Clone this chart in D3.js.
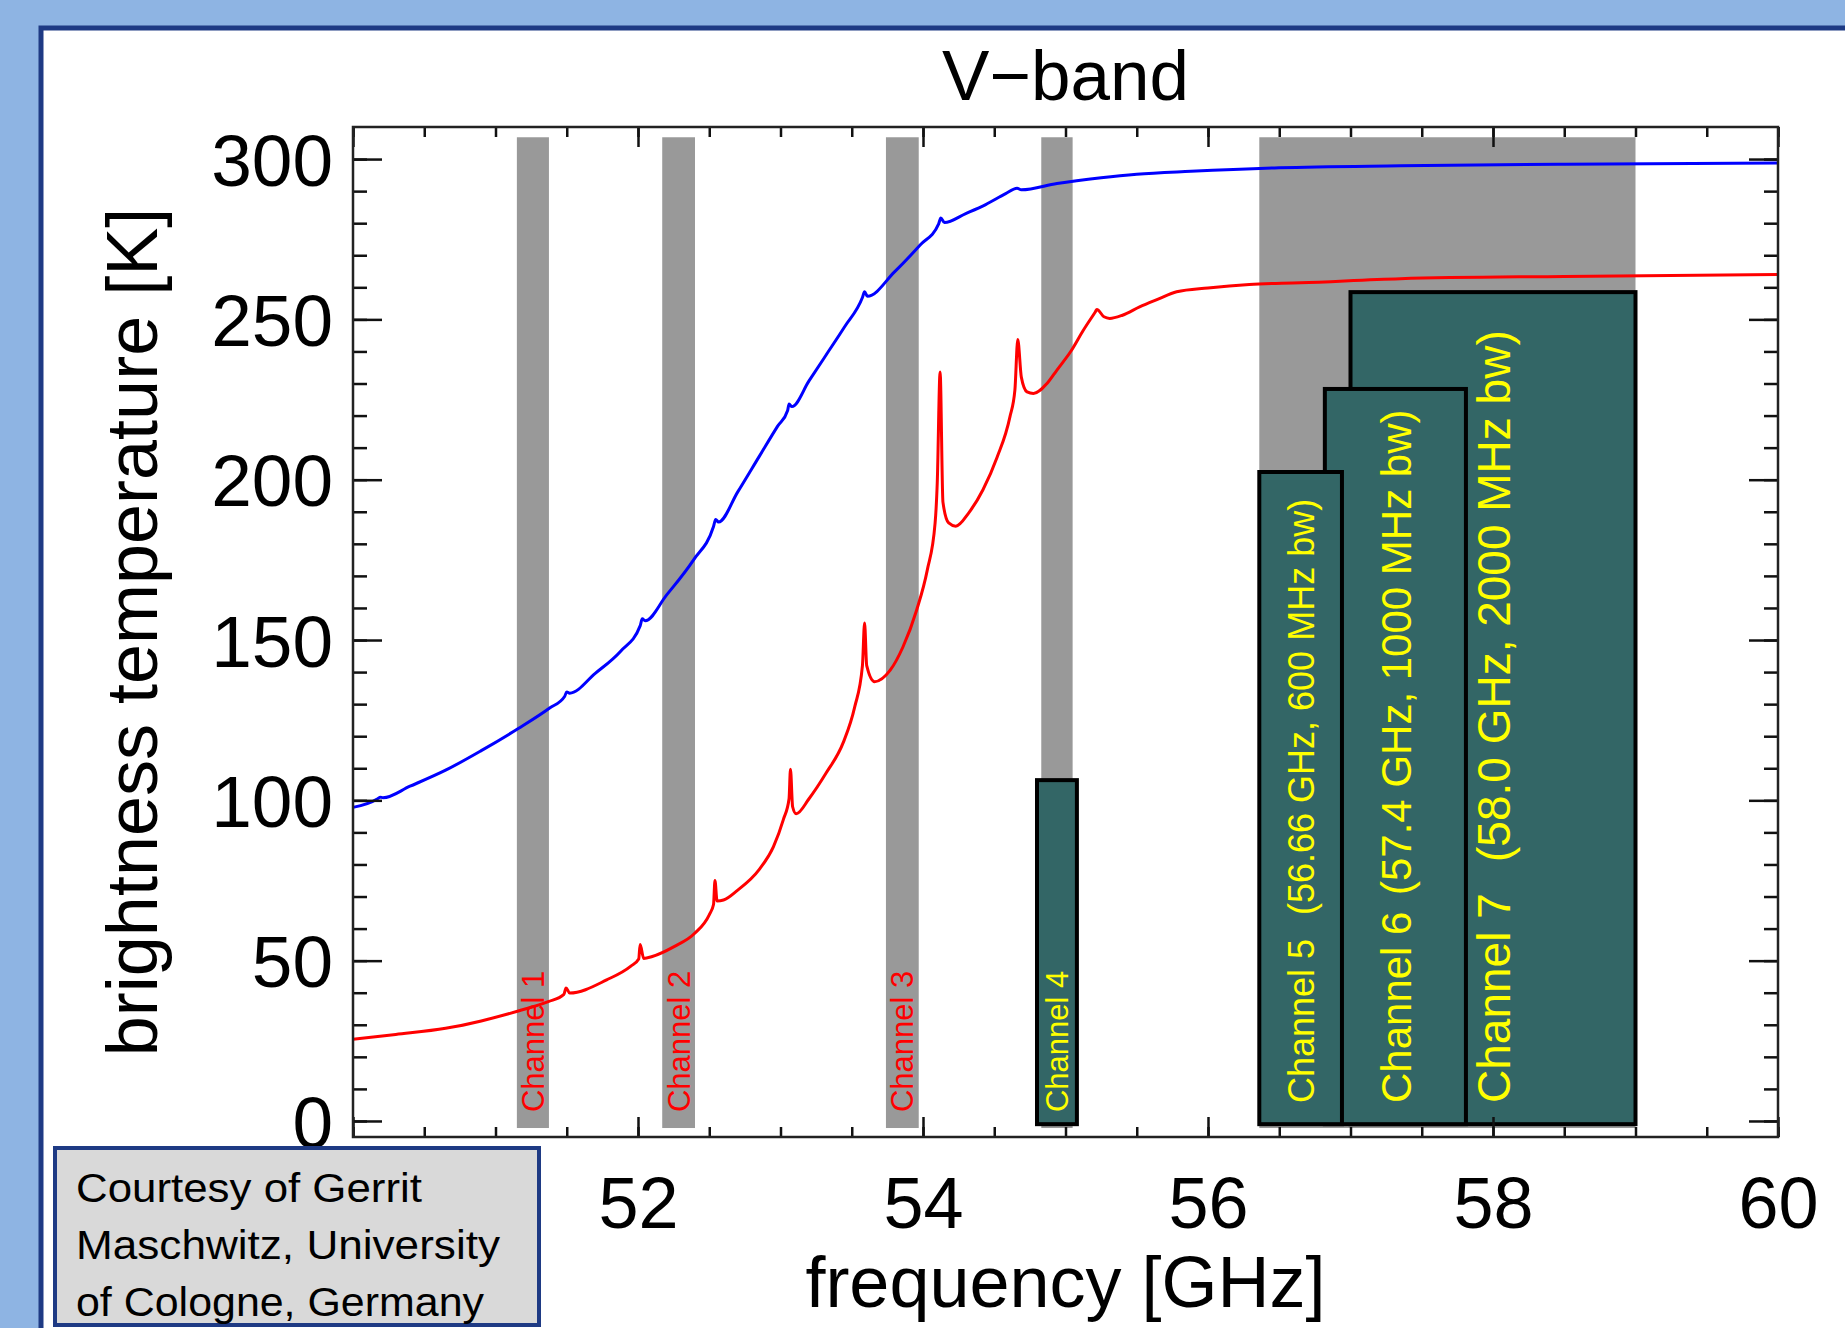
<!DOCTYPE html>
<html><head><meta charset="utf-8">
<script src="https://cdn.jsdelivr.net/npm/d3@7"></script>
<style>
html,body{margin:0;padding:0;background:#8EB4E3;overflow:hidden}
svg{display:block}
text{font-family:"Liberation Sans",Arial,Helvetica,sans-serif}
</style></head><body>
<svg id="chart" width="1845" height="1328"></svg>
<script>
// ---------------- data ----------------
const title = "V\u2212band";
const xLabel = "frequency [GHz]";
const yLabel = "brightness temperature [K]";
const xMajorTicks = [50, 52, 54, 56, 58, 60];
const xTickLabels = ["", "52", "54", "56", "58", "60"];   // 50 is hidden behind the credit box
const yMajorTicks = [0, 50, 100, 150, 200, 250, 300];
const courtesyLines = ["Courtesy of Gerrit", "Maschwitz, University", "of Cologne, Germany"];

// red curve (lower curve)
const redFreq = [50.00,50.30,50.65,50.90,51.16,51.37,51.48,51.495,51.52,51.78,51.95,52.005,52.015,52.04,52.10,52.25,52.40,52.50,52.53,52.54,52.555,52.60,52.70,52.85,52.95,53.02,53.06,53.07,53.085,53.11,53.20,53.32,53.44,53.52,53.575,53.59,53.605,53.66,53.77,53.86,53.955,54.03,54.085,54.10,54.12,54.14,54.18,54.23,54.32,54.42,54.52,54.61,54.645,54.665,54.69,54.73,54.775,54.87,54.94,55.04,55.125,55.21,55.22,55.27,55.31,55.40,55.52,55.65,55.78,56.00,56.29,56.65,57.35,58.50,60.00];
const redTb   = [25.5,27.0,28.9,31.2,34.3,37.2,39.5,41.5,39.9,44.0,48.3,50.5,55.0,50.7,51.3,54.3,58.6,64.3,67.5,75.0,68.6,68.9,72.0,78.4,85.5,94.0,100.5,109.7,98.0,95.8,100.5,108.5,118.0,129.0,142.0,155.3,142.0,137.0,140.6,147.9,159.3,171.8,186.5,199.0,233.6,193.0,186.5,185.5,189.6,196.8,207.0,219.6,228.0,243.7,232.0,227.4,226.9,230.0,234.2,240.2,246.6,252.4,253.1,250.8,250.3,251.3,253.9,256.3,258.6,259.8,260.9,261.4,262.7,263.4,264.0];

// blue curve (upper curve)
const blueFreq = [50.00,50.17,50.19,50.21,50.40,50.65,50.90,51.16,51.38,51.485,51.50,51.52,51.70,51.88,52.015,52.03,52.05,52.20,52.39,52.53,52.545,52.565,52.70,52.85,52.98,53.05,53.06,53.08,53.20,53.32,53.45,53.575,53.59,53.61,53.80,53.98,54.11,54.125,54.15,54.30,54.44,54.58,54.66,54.69,54.94,55.25,55.50,55.88,56.50,57.35,58.50,60.00];
const blueTb   = [97.8,100.4,101.0,100.8,104.4,109.4,115.5,122.4,128.8,132.4,133.8,133.4,139.6,146.6,154.4,156.6,156.0,164.0,175.0,185.4,187.6,186.8,196.2,207.2,216.7,221.6,223.6,222.8,230.8,238.9,247.7,256.8,258.6,257.2,264.8,273.2,279.8,281.6,280.2,283.0,285.8,289.2,290.9,290.4,292.4,294.2,295.3,296.2,297.3,297.9,298.4,298.8];

// grey channel bands (GHz)
const grayLo = [51.15, 52.17, 53.74, 54.83, 56.36];
const grayHi = [51.375, 52.40, 53.97, 55.05, 59.00];
const grayTop = 306.8, grayBottom = -2.2;
const grayNames = ["Channel 1", "Channel 2", "Channel 3"];

// teal channel boxes
const tealNames  = ["Channel 4", "Channel 5", "Channel 6", "Channel 7"];
const tealDetail = ["", "(56.66 GHz, 600 MHz bw)", "(57.4 GHz, 1000 MHz bw)", "(58.0 GHz, 2000 MHz bw)"];
const tealLo  = [54.80, 56.36, 56.82, 57.00];
const tealHi  = [55.08, 56.94, 57.81, 59.00];
const tealTop = [106.3, 202.4, 228.3, 258.5];
const tealBottom = -1.0;

// ---------------- drawing ----------------
const svg = d3.select('#chart');
const x = d3.scaleLinear().domain([50, 60]).range([353, 1778]);
const y = d3.scaleLinear().domain([-5, 310]).range([1137, 127]);

// page background + panel
svg.append('rect').attr('width', 1845).attr('height', 1328).attr('fill', '#8EB4E3');
svg.append('rect').attr('x', 41).attr('y', 28).attr('width', 1900).attr('height', 1400)
  .attr('fill', '#ffffff').attr('stroke', '#1E3A84').attr('stroke-width', 5);

// grey bands
svg.append('g').selectAll('rect').data(grayLo).join('rect')
  .attr('x', d => x(d)).attr('width', (d, i) => x(grayHi[i]) - x(d))
  .attr('y', y(grayTop)).attr('height', y(grayBottom) - y(grayTop))
  .attr('fill', '#999999');

// teal boxes (drawn back to front: 4, 7, 6, 5)
const order = [0, 3, 2, 1];
svg.append('g').selectAll('rect').data(order).join('rect')
  .attr('x', i => x(tealLo[i])).attr('width', i => x(tealHi[i]) - x(tealLo[i]))
  .attr('y', i => y(tealTop[i])).attr('height', i => y(tealBottom) - y(tealTop[i]))
  .attr('fill', '#336666').attr('stroke', '#000').attr('stroke-width', 4);

// curves
const line = d3.line().x(d => x(d[0])).y(d => y(d[1])).curve(d3.curveMonotoneX);
svg.append('path').datum(redFreq.map((f, i) => [f, redTb[i]]))
  .attr('d', line).attr('fill', 'none').attr('stroke', '#FF0000').attr('stroke-width', 3)
  .attr('stroke-linejoin', 'round');
svg.append('path').datum(blueFreq.map((f, i) => [f, blueTb[i]]))
  .attr('d', line).attr('fill', 'none').attr('stroke', '#0000FF').attr('stroke-width', 3)
  .attr('stroke-linejoin', 'round');

// channel labels in grey bands
const labelStartY = y(grayBottom) - 16;
grayNames.forEach((name, i) => {
  const cx = (x(grayLo[i]) + x(grayHi[i])) / 2;
  const fs = 31;
  svg.append('text').attr('transform', `translate(${cx + fs * 0.36},${labelStartY}) rotate(-90)`)
    .attr('font-size', fs).attr('fill', '#FF0000').text(name);
});

// teal labels
const tealFont = [31, 36, 42, 46];
const tealStart = [y(grayBottom) - 16, 1103, 1103, 1103];
const detailOffset = [0, 188, 208, 241];
tealNames.forEach((name, i) => {
  const cx = (x(tealLo[i]) + x(tealHi[i])) / 2;
  const fs = tealFont[i];
  const t = svg.append('text')
    .attr('transform', `translate(${cx + fs * 0.36},${tealStart[i]}) rotate(-90)`)
    .attr('font-size', fs).attr('fill', '#FFFF00');
  t.append('tspan').attr('x', 0).text(name);
  if (tealDetail[i]) t.append('tspan').attr('x', detailOffset[i]).text(tealDetail[i]);
});

// axes
function styleAxis(g) {
  g.select('.domain').remove();
  g.selectAll('line').attr('stroke', '#111').attr('stroke-width', 2.5);
  g.selectAll('text').attr('font-family', '"Liberation Sans",Arial,sans-serif').attr('fill', '#000');
}
const xMinor = d3.range(50, 60.001, 0.5);
const yMinor = d3.range(0, 300.001, 10);

// bottom
svg.append('g').attr('transform', `translate(0,${y(-5)})`)
  .call(d3.axisBottom(x).tickValues(xMinor).tickSize(-10).tickFormat('')).call(styleAxis);
svg.append('g').attr('transform', `translate(0,${y(-5)})`)
  .call(d3.axisBottom(x).tickValues(xMajorTicks).tickSize(-20).tickPadding(40)
    .tickFormat((d, i) => xTickLabels[i]))
  .call(styleAxis)
  .call(g => g.selectAll('text').attr('font-size', 72));
// top
svg.append('g').attr('transform', `translate(0,${y(310)})`)
  .call(d3.axisTop(x).tickValues(xMinor).tickSize(-10).tickFormat('')).call(styleAxis);
svg.append('g').attr('transform', `translate(0,${y(310)})`)
  .call(d3.axisTop(x).tickValues(xMajorTicks).tickSize(-20).tickFormat('')).call(styleAxis);
// left
svg.append('g').attr('transform', `translate(${x(50)},0)`)
  .call(d3.axisLeft(y).tickValues(yMinor).tickSize(-14).tickFormat('')).call(styleAxis);
svg.append('g').attr('transform', `translate(${x(50)},0)`)
  .call(d3.axisLeft(y).tickValues(yMajorTicks).tickSize(-29).tickPadding(20).tickFormat(d3.format('d')))
  .call(styleAxis)
  .call(g => g.selectAll('text').attr('font-size', 73).attr('dy', '0.36em'));
// right
svg.append('g').attr('transform', `translate(${x(60)},0)`)
  .call(d3.axisRight(y).tickValues(yMinor).tickSize(-14).tickFormat('')).call(styleAxis);
svg.append('g').attr('transform', `translate(${x(60)},0)`)
  .call(d3.axisRight(y).tickValues(yMajorTicks).tickSize(-29).tickFormat('')).call(styleAxis);

// frame
svg.append('rect').attr('x', x(50)).attr('y', y(310))
  .attr('width', x(60) - x(50)).attr('height', y(-5) - y(310))
  .attr('fill', 'none').attr('stroke', '#222').attr('stroke-width', 2.5);

// titles
const cxPlot = (x(50) + x(60)) / 2;
svg.append('text').attr('x', cxPlot).attr('y', 100).attr('text-anchor', 'middle')
  .attr('font-size', 71).attr('fill', '#000').text(title);
svg.append('text').attr('x', cxPlot).attr('y', 1307).attr('text-anchor', 'middle')
  .attr('font-size', 72).attr('fill', '#000').text(xLabel);
svg.append('text').attr('transform', `translate(157,${(y(-5) + y(310)) / 2}) rotate(-90)`)
  .attr('text-anchor', 'middle').attr('font-size', 72).attr('fill', '#000').text(yLabel);

// courtesy box
svg.append('rect').attr('x', 55).attr('y', 1148).attr('width', 484).attr('height', 177)
  .attr('fill', '#D9D9D9').attr('stroke', '#1E3A84').attr('stroke-width', 4);
const cLen = [346, 424, 408];
courtesyLines.forEach((s, i) => {
  svg.append('text').attr('x', 76).attr('y', 1202 + i * 57)
    .attr('font-family', 'Lato, "Open Sans", sans-serif').attr('font-size', 40)
    .attr('textLength', cLen[i]).attr('lengthAdjust', 'spacingAndGlyphs')
    .attr('fill', '#000').text(s);
});
</script>
</body></html>
